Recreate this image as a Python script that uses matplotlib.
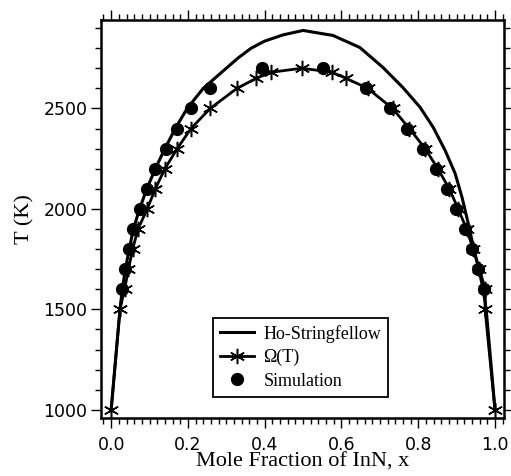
import matplotlib.pyplot as plt
from matplotlib.ticker import MultipleLocator

# Ho-Stringfellow curve
hs_x = [0.0, 0.023, 0.029, 0.037, 0.047, 0.058, 0.074, 0.093, 0.115, 0.140, 0.167, 0.198,
        0.240, 0.270, 0.300, 0.330, 0.365, 0.400, 0.448, 0.500, 0.578, 0.648, 0.708, 0.760,
        0.805, 0.839, 0.870, 0.896, 0.914, 0.930, 0.945, 0.958, 0.969, 0.977, 1.0]
hs_t = [1000, 1500, 1600, 1700, 1800, 1900, 2000, 2100, 2200, 2300, 2400, 2500,
        2600, 2650, 2700, 2750, 2800, 2835, 2866, 2888, 2863, 2803, 2704, 2604,
        2505, 2406, 2291, 2177, 2058, 1930, 1800, 1700, 1600, 1500, 1000]

# Omega(T) model
om_x = [0.0, 0.023, 0.035, 0.045, 0.056, 0.070, 0.094, 0.115, 0.140, 0.172, 0.208, 0.258,
        0.328, 0.378, 0.417, 0.497, 0.575, 0.612, 0.668, 0.733, 0.777, 0.818, 0.851, 0.881,
        0.904, 0.926, 0.943, 0.959, 0.975, 0.974, 1.0]
om_t = [1000, 1500, 1600, 1700, 1800, 1900, 2000, 2100, 2200, 2300, 2400, 2500,
        2600, 2650, 2680, 2700, 2680, 2650, 2600, 2500, 2400, 2300, 2200, 2100,
        2000, 1900, 1800, 1700, 1600, 1500, 1000]

# simulation points
sim_x = [0.028, 0.036, 0.047, 0.057, 0.076, 0.094, 0.115, 0.143, 0.172, 0.208, 0.258, 0.393,
         0.552, 0.664, 0.727, 0.771, 0.812, 0.846, 0.876, 0.898, 0.922, 0.940, 0.956, 0.971]
sim_t = [1600, 1700, 1800, 1900, 2000, 2100, 2200, 2300, 2400, 2500, 2600, 2700,
         2700, 2600, 2500, 2400, 2300, 2200, 2100, 2000, 1900, 1800, 1700, 1600]

x_ticks = [0.0, 0.2, 0.4, 0.6, 0.8, 1.0]
y_ticks = [1000, 1500, 2000, 2500]

serif = ["Liberation Serif", "DejaVu Serif"]

fig = plt.figure(figsize=(5.11, 4.76), dpi=100)
ax = fig.add_axes([0.198, 0.122, 0.788, 0.836])

ax.plot(hs_x, hs_t, color="black", lw=2.2, label="Ho-Stringfellow")
ax.plot(om_x, om_t, color="black", lw=2.0, marker=(6, 2, 0), ms=11, mew=1.1,
        label="Ω(T)")
ax.plot(sim_x, sim_t, "o", color="black", ms=8.5, label="Simulation")

ax.set_xlim(-0.026, 1.023)
ax.set_ylim(960, 2940)
ax.set_xticks(x_ticks)
ax.set_xticklabels([f"{v:.1f}" for v in x_ticks])
ax.set_yticks(y_ticks)
ax.xaxis.set_minor_locator(MultipleLocator(0.02))
ax.yaxis.set_minor_locator(MultipleLocator(100))

ax.tick_params(which="both", direction="out", top=True, right=True, width=1.0,
               labelsize=12.5, colors="black")
ax.tick_params(which="major", length=7, pad=3)
ax.tick_params(which="minor", length=4)
ax.tick_params(axis="x", which="major", pad=6)
for s in ax.spines.values():
    s.set_linewidth(1.8)

ax.set_xlabel("Mole Fraction of InN, x", family=serif, fontsize=16, labelpad=-1)
ax.set_ylabel("T (K)", family=serif, fontsize=16, labelpad=6)

leg = ax.legend(loc="lower left", bbox_to_anchor=(0.255, 0.03), fancybox=False,
                edgecolor="black", framealpha=1, prop={"family": serif, "size": 13},
                handlelength=1.9, borderpad=0.4, labelspacing=0.35, handletextpad=0.5)
leg.get_frame().set_linewidth(1.3)

fig.savefig("out.png", dpi=100)
